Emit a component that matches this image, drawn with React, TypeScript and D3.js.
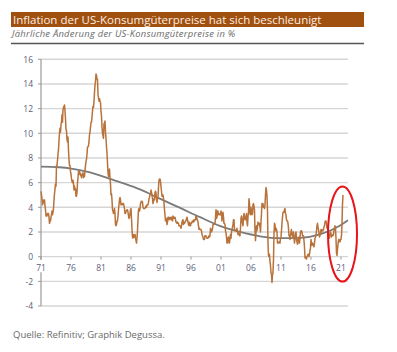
import React, { useEffect, useRef } from 'react';
import * as d3 from 'd3';

const title = 'Inflation der US-Konsumgüterpreise hat sich beschleunigt';
const subtitle = 'Jährliche Änderung der US-Konsumgüterpreise in %';
const source = 'Quelle: Refinitiv; Graphik Degussa.';

const startYear = 1971;
// monthly CPI y/y in %, one row per year (Jan..Dec)
const cpi: number[][] = [
  [5.3, 5.0, 4.7, 4.2, 4.4, 4.6, 4.4, 4.6, 4.1, 3.8, 3.3, 3.3],
  [3.3, 3.5, 3.5, 3.5, 3.2, 2.7, 2.9, 2.9, 3.2, 3.4, 3.7, 3.4],
  [3.6, 3.9, 4.6, 5.1, 5.5, 5.9, 5.7, 7.4, 7.4, 7.8, 8.3, 8.7],
  [9.4, 10.0, 10.4, 10.1, 10.7, 10.9, 11.5, 10.9, 11.9, 12.1, 12.2, 12.3],
  [11.8, 11.2, 10.3, 10.2, 9.5, 9.3, 9.7, 8.6, 7.9, 7.4, 7.4, 6.9],
  [6.7, 6.3, 6.1, 6.0, 6.2, 5.9, 5.4, 5.7, 5.5, 5.5, 4.9, 4.9],
  [5.2, 6.0, 6.4, 6.9, 6.7, 6.9, 6.8, 6.6, 6.6, 6.4, 6.7, 6.7],
  [6.8, 6.4, 6.6, 6.5, 7.0, 7.4, 7.7, 7.9, 8.3, 8.9, 8.9, 9.0],
  [9.3, 9.9, 10.1, 10.5, 10.9, 10.9, 11.3, 11.8, 12.2, 12.1, 12.6, 13.3],
  [13.9, 14.2, 14.8, 14.7, 14.4, 14.4, 13.1, 12.9, 12.6, 12.8, 12.6, 12.5],
  [11.8, 11.4, 10.5, 10.0, 9.8, 9.6, 10.8, 10.8, 11.0, 10.1, 9.6, 8.9],
  [8.4, 7.6, 6.8, 6.5, 6.7, 7.1, 6.4, 5.9, 5.0, 5.1, 4.6, 3.8],
  [3.7, 3.5, 3.6, 3.9, 3.5, 2.6, 2.5, 2.6, 2.9, 2.9, 3.3, 3.8],
  [4.2, 4.6, 4.8, 4.6, 4.2, 4.2, 4.2, 4.3, 4.3, 4.3, 4.1, 3.9],
  [3.5, 3.5, 3.7, 3.7, 3.8, 3.8, 3.6, 3.3, 3.1, 3.2, 3.5, 3.8],
  [3.9, 3.1, 2.2, 1.6, 1.5, 1.8, 1.6, 1.6, 1.8, 1.5, 1.3, 1.1],
  [1.5, 2.1, 3.0, 3.8, 3.9, 3.7, 3.9, 4.3, 4.4, 4.5, 4.5, 4.4],
  [4.0, 3.9, 3.9, 3.9, 3.9, 4.0, 4.1, 4.0, 4.2, 4.2, 4.2, 4.4],
  [4.7, 4.8, 5.0, 5.1, 5.4, 5.2, 5.0, 4.7, 4.3, 4.5, 4.7, 4.6],
  [5.2, 5.3, 5.2, 4.7, 4.4, 4.7, 4.8, 5.6, 6.2, 6.3, 6.3, 6.1],
  [5.7, 5.3, 4.9, 4.9, 5.0, 4.7, 4.4, 3.8, 3.4, 2.9, 3.0, 3.1],
  [2.6, 2.8, 3.2, 3.2, 3.0, 3.1, 3.2, 3.1, 3.0, 3.2, 3.0, 2.9],
  [3.3, 3.2, 3.1, 3.2, 3.2, 3.0, 2.8, 2.8, 2.7, 2.8, 2.7, 2.7],
  [2.5, 2.5, 2.5, 2.4, 2.3, 2.5, 2.8, 2.9, 3.0, 2.6, 2.7, 2.7],
  [2.8, 2.9, 2.9, 3.1, 3.2, 3.0, 2.8, 2.6, 2.5, 2.8, 2.6, 2.5],
  [2.7, 2.7, 2.8, 2.9, 2.9, 2.8, 3.0, 2.9, 3.0, 3.0, 3.3, 3.3],
  [3.0, 3.0, 2.8, 2.5, 2.2, 2.3, 2.2, 2.2, 2.2, 2.1, 1.8, 1.7],
  [1.6, 1.4, 1.4, 1.4, 1.7, 1.7, 1.7, 1.6, 1.5, 1.5, 1.5, 1.6],
  [1.7, 1.6, 1.7, 2.3, 2.1, 2.0, 2.1, 2.3, 2.6, 2.6, 2.6, 2.7],
  [2.7, 3.2, 3.8, 3.1, 3.2, 3.7, 3.7, 3.4, 3.5, 3.4, 3.4, 3.4],
  [3.7, 3.5, 2.9, 3.3, 3.6, 3.2, 2.7, 2.7, 2.6, 2.1, 1.9, 1.6],
  [1.1, 1.1, 1.5, 1.6, 1.2, 1.1, 1.5, 1.8, 1.5, 2.0, 2.2, 2.4],
  [2.6, 3.0, 3.0, 2.2, 2.1, 2.1, 2.1, 2.2, 2.3, 2.0, 1.8, 1.9],
  [1.9, 1.7, 1.7, 2.3, 3.1, 3.3, 3.0, 2.7, 2.5, 3.2, 3.5, 3.3],
  [3.0, 3.0, 3.1, 3.5, 2.8, 2.5, 3.2, 3.6, 4.7, 4.3, 3.5, 3.4],
  [4.0, 3.6, 3.4, 3.5, 4.2, 4.3, 4.1, 3.8, 2.1, 1.3, 2.0, 2.5],
  [2.1, 2.4, 2.8, 2.6, 2.7, 2.7, 2.4, 2.0, 2.8, 3.5, 4.3, 4.1],
  [4.3, 4.0, 4.0, 3.9, 4.2, 5.0, 5.6, 5.4, 4.9, 3.7, 1.1, 0.1],
  [0.0, 0.2, -0.4, -0.7, -1.3, -1.4, -2.1, -1.5, -1.3, -0.2, 1.8, 2.7],
  [2.6, 2.1, 2.3, 2.2, 2.0, 1.1, 1.2, 1.1, 1.1, 1.2, 1.1, 1.5],
  [1.6, 2.1, 2.7, 3.2, 3.6, 3.6, 3.6, 3.8, 3.9, 3.5, 3.4, 3.0],
  [2.9, 2.9, 2.7, 2.3, 1.7, 1.7, 1.4, 1.7, 2.0, 2.2, 1.8, 1.7],
  [1.6, 2.0, 1.5, 1.1, 1.4, 1.8, 2.0, 1.5, 1.2, 1.0, 1.2, 1.5],
  [1.6, 1.1, 1.5, 2.0, 2.1, 2.1, 2.0, 1.7, 1.7, 1.7, 1.3, 0.8],
  [-0.1, 0.0, -0.1, -0.2, 0.0, 0.1, 0.2, 0.2, 0.0, 0.2, 0.5, 0.7],
  [1.4, 1.0, 0.9, 1.1, 1.0, 1.0, 0.8, 1.1, 1.5, 1.6, 1.7, 2.1],
  [2.5, 2.7, 2.4, 2.2, 1.9, 1.6, 1.7, 1.9, 2.2, 2.0, 2.2, 2.1],
  [2.1, 2.2, 2.4, 2.5, 2.8, 2.9, 2.9, 2.7, 2.3, 2.5, 2.2, 1.9],
  [1.6, 1.5, 1.9, 2.0, 1.8, 1.6, 1.8, 1.7, 1.7, 1.8, 2.1, 2.3],
  [2.5, 2.3, 1.5, 0.3, 0.1, 0.6, 1.0, 1.3, 1.4, 1.2, 1.2, 1.4],
  [1.4, 1.7, 2.6, 4.2, 5.0],
];

// long-run trend (grey curve)
const trendYears = [1971, 1974, 1976.3, 1979, 1982.5, 1985, 1987.5, 1990.8, 1994.2, 1997.5, 2000.8, 2004.2, 2007.5, 2010.8, 2014.2, 2017.5, 2020.8, 2022.17];
const trendValues = [7.3, 7.25, 7.12, 6.85, 6.3, 5.9, 5.45, 4.7, 3.95, 3.2, 2.5, 2.0, 1.65, 1.5, 1.52, 1.8, 2.5, 2.95];

const yTicks = [-4, -2, 0, 2, 4, 6, 8, 10, 12, 14, 16];
const xTicks = [1971, 1976, 1981, 1986, 1991, 1996, 2001, 2006, 2011, 2016, 2021];

const W = 397;
const H = 352;
const font = '"Open Sans", "DejaVu Sans", sans-serif';

const App = () => {
  const ref = useRef<SVGSVGElement>(null);

  useEffect(() => {
    const svg = d3.select(ref.current);
    svg.selectAll('*').remove();

    const x = d3.scaleLinear().domain([1971, 2022.17]).range([41, 348]);
    const y = d3.scaleLinear().domain([-4, 16]).range([306, 59.3]);

    // header
    svg.append('rect').attr('x', 11).attr('y', 12).attr('width', 353).attr('height', 15).attr('fill', '#a0500f');
    svg.append('text').attr('x', 13).attr('y', 24).attr('fill', '#fbeee2')
      .attr('font-family', font).attr('font-size', 11.5).text(title);
    svg.append('text').attr('x', 12).attr('y', 36.5).attr('fill', '#6a6a6a')
      .attr('font-family', font).attr('font-size', 9.4).attr('font-style', 'italic')
      .attr('letter-spacing', 0.25).text(subtitle);
    svg.append('line').attr('x1', 11).attr('x2', 364).attr('y1', 43.5).attr('y2', 43.5)
      .attr('stroke', '#555').attr('stroke-width', 1.6);

    // grid lines
    svg.append('g').selectAll('line').data(yTicks).enter().append('line')
      .attr('x1', x(1971)).attr('x2', 348)
      .attr('y1', d => y(d)).attr('y2', d => y(d))
      .attr('stroke', '#d6d6d6').attr('stroke-width', 1.4);

    // y axis (broken where the x labels sit)
    const axisColor = '#9a9a9a';
    svg.append('line').attr('x1', 41).attr('x2', 41).attr('y1', y(16)).attr('y2', y(0) + 3)
      .attr('stroke', axisColor).attr('stroke-width', 1.2);
    svg.append('line').attr('x1', 41).attr('x2', 41).attr('y1', y(-0.7) + 7).attr('y2', y(-4))
      .attr('stroke', axisColor).attr('stroke-width', 1.2);
    svg.append('g').selectAll('line').data(yTicks).enter().append('line')
      .attr('x1', 38).attr('x2', 41).attr('y1', d => y(d)).attr('y2', d => y(d))
      .attr('stroke', axisColor).attr('stroke-width', 1);
    svg.append('g').selectAll('text').data(yTicks).enter().append('text')
      .attr('x', 33).attr('y', d => y(d) + 3.2).attr('text-anchor', 'end')
      .attr('fill', '#5c607c').attr('font-family', font).attr('font-size', 8.5)
      .text(d => d);

    // x ticks on the zero line
    svg.append('g').selectAll('line').data(xTicks).enter().append('line')
      .attr('x1', d => x(d)).attr('x2', d => x(d)).attr('y1', y(0)).attr('y2', y(0) + 3)
      .attr('stroke', axisColor).attr('stroke-width', 1);
    svg.append('g').selectAll('text').data(xTicks).enter().append('text')
      .attr('x', d => x(d)).attr('y', y(0) + 14).attr('text-anchor', 'middle')
      .attr('fill', '#5c607c').attr('font-family', font).attr('font-size', 8.5)
      .text(d => String(d).slice(2));

    // trend
    const trend = trendYears.map((t, i) => [t, trendValues[i]] as [number, number]);
    svg.append('path').datum(trend)
      .attr('d', d3.line<[number, number]>().x(d => x(d[0])).y(d => y(d[1])).curve(d3.curveMonotoneX))
      .attr('fill', 'none').attr('stroke', '#7b7b7b').attr('stroke-width', 1.8);

    // CPI series
    const series: [number, number][] = [];
    cpi.forEach((row, yi) => row.forEach((v, m) => series.push([startYear + yi + m / 12, v])));
    svg.append('path').datum(series)
      .attr('d', d3.line<[number, number]>().x(d => x(d[0])).y(d => y(d[1])))
      .attr('fill', 'none').attr('stroke', '#b8723a').attr('stroke-width', 1.5)
      .attr('stroke-linejoin', 'round');

    // red highlight ellipse
    svg.append('ellipse').attr('cx', 342.5).attr('cy', 234).attr('rx', 14.5).attr('ry', 47.5)
      .attr('fill', 'none').attr('stroke', '#e8141b').attr('stroke-width', 2);

    svg.append('text').attr('x', 13).attr('y', 338).attr('fill', '#6a6a6a')
      .attr('font-family', font).attr('font-size', 9.5).text(source);
  }, []);

  return (
    <svg ref={ref} width={W} height={H}
      style={{ position: 'absolute', left: 0, top: 0, background: '#fff' }} />
  );
};

export default App;
